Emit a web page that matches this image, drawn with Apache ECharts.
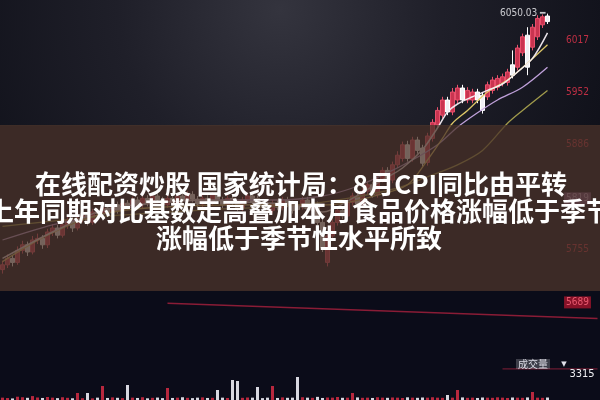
<!DOCTYPE html>
<html>
<head>
<meta charset="utf-8">
<script src="https://cdn.jsdelivr.net/npm/echarts@6/dist/echarts.min.js"></script>
<style>html,body{margin:0;padding:0;background:#0b0c19}#c{width:600px;height:400px}</style>
</head>
<body>
<div id="c"></div>
<script>
// ---- data ----
const headline = [
  '在线配资炒股 国家统计局：8月CPI同比由平转',
  '上年同期对比基数走高叠加本月食品价格涨幅低于季节',
  '涨幅低于季节性水平所致'
];
// candles: [open, close, low, high]
const candles = [
 [5730,5736,5725,5741],[5736,5744,5732,5749],[5744,5739,5734,5748],[5739,5754,5736,5759],[5754,5761,5750,5766],
 [5761,5752,5747,5765],[5752,5767,5749,5772],[5767,5769,5762,5775],[5769,5761,5756,5773],[5761,5777,5757,5781],
 [5777,5782,5772,5787],[5782,5773,5769,5786],[5773,5786,5770,5791],[5786,5792,5781,5797],[5792,5782,5777,5796],
 [5782,5794,5779,5799],[5794,5798,5789,5803],[5798,5789,5785,5802],[5789,5802,5786,5806],[5802,5800,5795,5806],
 [5800,5807,5796,5811],[5807,5802,5798,5811],[5802,5811,5798,5815],[5811,5804,5800,5815],[5804,5813,5800,5817],
 [5813,5809,5805,5817],[5809,5817,5805,5821],[5817,5811,5807,5821],[5811,5819,5807,5823],[5819,5813,5809,5823],
 [5813,5822,5809,5826],[5822,5817,5813,5826],[5817,5811,5807,5821],[5811,5819,5807,5823],[5819,5814,5810,5823],
 [5814,5822,5810,5826],[5822,5817,5813,5826],[5817,5824,5813,5828],[5824,5818,5814,5828],[5818,5812,5808,5822],
 [5812,5819,5808,5823],[5819,5814,5810,5823],[5814,5823,5810,5827],[5823,5817,5813,5827],[5817,5811,5807,5821],
 [5811,5819,5807,5823],[5819,5813,5809,5823],[5813,5807,5803,5817],[5807,5817,5803,5821],[5817,5822,5813,5826],
 [5822,5814,5810,5826],[5819,5814,5810,5823],[5814,5811,5807,5818],[5811,5804,5800,5815],[5804,5813,5800,5817],
 [5813,5808,5804,5817],[5808,5817,5804,5821],[5817,5812,5808,5821],[5812,5804,5800,5816],[5810,5805,5801,5814],
 [5809,5817,5805,5821],[5817,5806,5802,5821],[5806,5812,5802,5816],[5812,5789,5785,5815],[5789,5757,5752,5792],
 [5739,5772,5734,5776],[5772,5789,5768,5793],[5789,5804,5785,5808],[5804,5797,5793,5808],[5797,5814,5793,5818],
 [5814,5822,5810,5826],[5822,5812,5808,5826],[5812,5828,5808,5832],[5828,5836,5824,5840],[5836,5824,5820,5840],
 [5824,5843,5820,5847],[5843,5854,5839,5858],[5854,5842,5838,5858],[5842,5861,5838,5865],[5861,5873,5857,5878],
 [5869,5886,5865,5890],[5886,5869,5865,5891],[5869,5892,5865,5896],[5892,5879,5875,5896],[5882,5863,5859,5886],
 [5864,5897,5860,5901],[5894,5914,5890,5918],[5911,5929,5907,5933],[5923,5942,5919,5946],[5942,5927,5923,5946],
 [5927,5952,5923,5957],[5942,5957,5938,5961],[5957,5942,5938,5961],[5942,5954,5938,5958],[5942,5952,5938,5956],
 [5952,5942,5938,5956],[5948,5929,5925,5952],[5946,5961,5942,5965],[5954,5967,5950,5971],[5958,5969,5954,5973],
 [5963,5971,5959,5975],[5964,5977,5960,5981],[5986,5973,5969,6004],[5983,6007,5979,6011],[6001,6021,5997,6025],
 [6023,5983,5973,6033],[6008,6033,6004,6037],[6021,6044,6017,6048],[6036,6046,6032,6049],[6047,6040,6037,6050.03]
];
const volumes = [
 300,250,200,420,350,280,500,320,260,380,
 300,240,350,280,220,893,230,893,210,300,
 1785,260,330,280,240,1913,300,260,350,220,
 280,310,240,1530,260,300,350,280,240,300,
 330,260,280,1275,300,260,2550,2423,280,320,
 300,1658,240,300,1785,260,330,280,300,2933,
 350,300,280,400,260,320,300,383,280,300,
 893,330,280,300,260,350,300,280,320,300,
 260,340,300,280,320,300,350,300,280,638,
 300,1275,330,280,300,260,320,300,280,340,
 300,260,320,300,280,330,1020,300,280,320
];
const ma5  = [[0,5744],[10,5777],[20,5804],[30,5813],[40,5817],[50,5814],[58,5811],[64,5802],[70,5819],[76,5842],[80,5857],[84,5880],[87,5907],[89,5927],[91,5937],[94,5946],[97,5954],[100,5962],[103,5977],[106,5994],[109,6026]];
const ma10 = [[0,5740],[9,5773],[19,5798],[29,5807],[49,5811],[65,5811],[75,5823],[81,5836],[85,5867],[88,5894],[90,5913],[93,5929],[97,5952],[101,5967],[105,5988],[109,6011]];
const ma20 = [[0,5767],[10,5786],[20,5799],[30,5813],[45,5817],[55,5817],[64,5822],[70,5832],[76,5848],[82,5867],[87,5886],[91,5908],[95,5926],[99,5942],[104,5958],[109,5983]];
const ma60 = [[0,5784],[19,5796],[39,5804],[59,5811],[69,5819],[79,5832],[85,5846],[91,5861],[96,5879],[101,5913],[104,5929],[109,5954]];
const trendLine = [[33,5688],[119,5669]];
const trendLine2 = [[100,5606],[119,5606]];
const priceTicks = [6017, 5952, 5886, 5819, 5755, 5689];
const highMark = [109, 6050.03];
const volumeMax = 3315;
const volumeLabel = '成交量';
const categories = Array.from({length: 120}, (_, i) => String(i + 1));

// ---- chart ----
const chart = echarts.init(document.getElementById('c'), null, {renderer: 'canvas'});
const upColor = '#c93450', upBorder = '#e8506c', downColor = '#f0f0f4';
const volData = volumes.map((v, i) => ({
  value: v,
  itemStyle: {color: candles[i][1] >= candles[i][0] ? '#b8283e' : '#d8d8e0'}
}));
const tickData = priceTicks.map(v => {
  const item = {value: [115, v]};
  if (v === 5819) item.label = {backgroundColor: '#8a5a92', color: '#dcb8e0', padding: [1, 2]};
  if (v === 5689) item.label = {backgroundColor: '#a8142c', color: '#ff6a80', padding: [1, 2]};
  return item;
});
const lineStyleOf = (c, w) => ({color: c, width: w, opacity: 0.95});
const headFont = 'bold 26px "Noto Sans CJK SC"';

chart.setOption({
  backgroundColor: '#0b0c19',
  animation: false,
  grid: [
    {left: 0, right: 0, top: 0, bottom: 0},
    {left: 0, right: 0, top: 374, height: 26}
  ],
  xAxis: [
    {type: 'category', data: categories, gridIndex: 0, show: false, boundaryGap: true},
    {type: 'category', data: categories, gridIndex: 1, show: false, boundaryGap: true}
  ],
  yAxis: [
    {type: 'value', gridIndex: 0, min: 5567, max: 6067, show: false},
    {type: 'value', gridIndex: 1, min: 0, max: volumeMax, show: false}
  ],
  graphic: [
    {type: 'rect', z: -100, shape: {x: 0, y: 0, width: 600, height: 400}, style: {fill: '#0b0c19'}},
    {type: 'rect', z: -99, shape: {x: 0, y: 0, width: 600, height: 126},
     style: {fill: {type: 'radial', x: 280, y: 10, r: 360, global: true,
       colorStops: [{offset: 0, color: '#34343e'}, {offset: 0.45, color: '#1f1f29'}, {offset: 1, color: '#0f1019'}]}}},
    {type: 'rect', z: 100, shape: {x: 0, y: 125, width: 600, height: 166}, style: {fill: 'rgba(76,53,42,0.76)'}},
    {type: 'text', z: 101, x: 301, y: 184, style: {text: headline[0], fill: '#ffffff', font: headFont, textAlign: 'center', textVerticalAlign: 'middle'}},
    {type: 'text', z: 101, x: 300, y: 211, style: {text: headline[1], fill: '#ffffff', font: headFont, textAlign: 'center', textVerticalAlign: 'middle'}},
    {type: 'text', z: 101, x: 299, y: 238, style: {text: headline[2], fill: '#ffffff', font: headFont, textAlign: 'center', textVerticalAlign: 'middle'}},
    {type: 'text', z: 50, x: 533, y: 364, style: {text: volumeLabel, fill: '#dcdce6', font: '10px "Noto Sans CJK SC"', textAlign: 'center', textVerticalAlign: 'middle', backgroundColor: 'rgba(210,210,220,0.25)', padding: [0, 2]}},
    {type: 'text', z: 50, x: 564, y: 364, style: {text: '▼', fill: '#e0e0ea', font: '7px "DejaVu Sans"', textAlign: 'center', textVerticalAlign: 'middle'}},
    {type: 'text', z: 50, x: 582, y: 374, style: {text: String(volumeMax), fill: '#f0f0f4', font: '11px "DejaVu Sans Condensed"', textAlign: 'center', textVerticalAlign: 'middle'}}
  ],
  series: [
    {type: 'line', xAxisIndex: 0, yAxisIndex: 0, data: trendLine, symbol: 'none', lineStyle: {color: '#8a1c36', width: 1.5}, z: 1},
    {type: 'line', xAxisIndex: 0, yAxisIndex: 0, data: trendLine2, symbol: 'none', lineStyle: {color: '#6a1a30', width: 1.2}, z: 1},
    {type: 'candlestick', xAxisIndex: 0, yAxisIndex: 0, data: candles, barWidth: 3.6,
     itemStyle: {color: upColor, color0: downColor, borderColor: upBorder, borderColor0: '#ffffff', borderWidth: 1}},
    {type: 'line', xAxisIndex: 0, yAxisIndex: 0, data: ma60, symbol: 'none', smooth: 0.3, lineStyle: lineStyleOf('#a9a24e', 1.3), z: 3},
    {type: 'line', xAxisIndex: 0, yAxisIndex: 0, data: ma20, symbol: 'none', smooth: 0.3, lineStyle: lineStyleOf('#c8a8e4', 1.3), z: 3},
    {type: 'line', xAxisIndex: 0, yAxisIndex: 0, data: ma10, symbol: 'none', smooth: 0.3, lineStyle: lineStyleOf('#e6cf6a', 1.3), z: 3},
    {type: 'line', xAxisIndex: 0, yAxisIndex: 0, data: ma5, symbol: 'none', smooth: 0.3, lineStyle: lineStyleOf('#f6eef4', 1.5), z: 3},
    {type: 'scatter', xAxisIndex: 0, yAxisIndex: 0, data: tickData, symbolSize: 0, z: 5,
     label: {show: true, position: 'inside', formatter: p => String(p.value[1]), color: '#e8364e', fontSize: 10, fontFamily: 'DejaVu Sans Condensed'}},
    {type: 'scatter', xAxisIndex: 0, yAxisIndex: 0, data: [highMark], symbolSize: 0, z: 5,
     label: {show: true, position: 'left', distance: 2, formatter: p => p.value[1].toFixed(2) + ' ━', color: '#f4f4f8', fontSize: 10, fontFamily: 'DejaVu Sans Condensed'}},
    {type: 'bar', xAxisIndex: 1, yAxisIndex: 1, data: volData, barWidth: 3}
  ]
});
</script>
</body>
</html>
